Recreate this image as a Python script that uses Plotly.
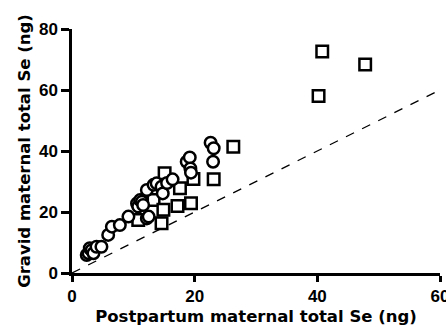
import plotly.graph_objects as go

# Circles series (x = postpartum, y = gravid)
circle_x = [2.4, 2.7, 2.9, 3.2, 3.5, 4.0, 4.8, 5.9, 6.5, 7.8, 9.2, 10.6, 10.8, 11.1, 11.4, 11.6,
            12.2, 12.2, 12.5, 13.3, 13.8, 14.6, 14.8, 15.5, 16.4, 18.7, 19.2, 19.3, 19.4,
            22.6, 23.1, 23.0]
circle_y = [5.9, 6.5, 8.1, 7.5, 6.5, 8.6, 8.6, 12.5, 15.2, 15.7, 18.5, 22.8, 21.8, 23.9, 23.4, 22.3,
            27.2, 17.9, 18.5, 28.9, 29.4, 28.3, 26.1, 29.5, 30.7, 36.5, 37.9, 34.3, 32.9,
            42.7, 40.9, 36.5]

# Squares series
square_x = [10.8, 13.3, 14.6, 14.9, 15.1, 17.2, 17.6, 19.4, 19.8, 23.1, 26.3, 40.2, 40.8, 47.8]
square_y = [17.4, 23.9, 16.3, 20.7, 32.7, 22.0, 27.8, 22.9, 30.8, 30.7, 41.4, 58.0, 72.6, 68.4]

# Identity line
line_x = [0, 60]
line_y = [0, 60]

x_ticks = [0, 20, 40, 60]
y_ticks = [0, 20, 40, 60, 80]

fig = go.Figure()
fig.add_trace(go.Scatter(x=line_x, y=line_y, mode="lines",
                         line=dict(color="black", width=1.3, dash="dash"),
                         showlegend=False, cliponaxis=False))
fig.add_trace(go.Scatter(x=square_x, y=square_y, mode="markers",
                         marker=dict(symbol="square", size=11.5, color="white",
                                     line=dict(color="black", width=2.5)),
                         showlegend=False, cliponaxis=False))
fig.add_trace(go.Scatter(x=circle_x, y=circle_y, mode="markers",
                         marker=dict(symbol="circle", size=11.5, color="white",
                                     line=dict(color="black", width=2.5)),
                         showlegend=False, cliponaxis=False))

tick_font = "Liberation Sans"
title_font = "DejaVu Sans"
fig.update_layout(
    width=446, height=331,
    margin=dict(l=72, r=6, t=29, b=58),
    plot_bgcolor="white", paper_bgcolor="white",
    font=dict(family=tick_font, color="black"),
    xaxis=dict(range=[0, 60], tickvals=x_ticks, showgrid=False, zeroline=False,
               showline=True, linecolor="black", linewidth=2.5,
               ticks="outside", ticklen=6, tickwidth=2.5, tickcolor="black",
               ticklabeloverflow="allow", automargin="bottom",
               tickfont=dict(size=17, family=tick_font, weight="bold"),
               title=dict(text="Postpartum maternal total Se (ng)",
                          font=dict(size=16.5, family=title_font, weight="bold"),
                          standoff=6)),
    yaxis=dict(range=[0, 80], tickvals=y_ticks, showgrid=False, zeroline=False,
               showline=True, linecolor="black", linewidth=2.5,
               ticks="outside", ticklen=8, tickwidth=2.5, tickcolor="black",
               ticklabeloverflow="allow", automargin="left",
               tickfont=dict(size=17, family=tick_font, weight="bold"),
               title=dict(text="Gravid maternal total Se (ng)",
                          font=dict(size=16.5, family=title_font, weight="bold"),
                          standoff=5)),
)

fig.write_html("out.html", config={"displayModeBar": False},
               post_script="document.body.style.margin='0';")
